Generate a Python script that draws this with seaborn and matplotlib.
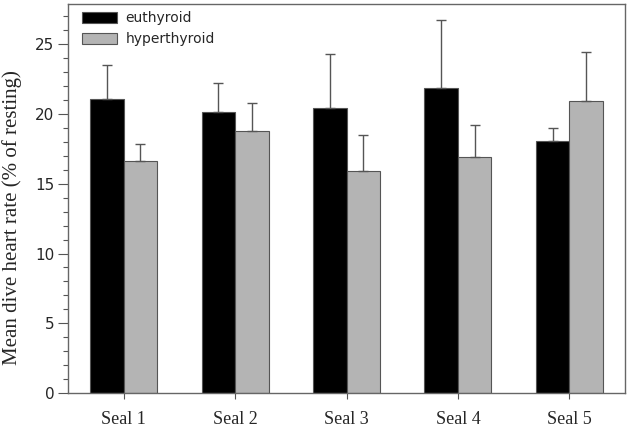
import numpy as np
import pandas as pd
import matplotlib
matplotlib.use("Agg")
import matplotlib.pyplot as plt
import seaborn as sns
from matplotlib.ticker import MultipleLocator

seals = ["Seal 1", "Seal 2", "Seal 3", "Seal 4", "Seal 5"]
groups = ["euthyroid", "hyperthyroid"]
euthyroid = [21.1, 20.15, 20.45, 21.85, 18.1]
hyperthyroid = [16.65, 18.8, 15.95, 16.9, 20.9]
euthyroid_err = [2.4, 2.1, 3.85, 4.9, 0.9]
hyperthyroid_err = [1.2, 2.0, 2.55, 2.3, 3.55]

df = pd.DataFrame({
    "seal": seals * 2,
    "group": [groups[0]] * len(seals) + [groups[1]] * len(seals),
    "value": euthyroid + hyperthyroid,
    "err": euthyroid_err + hyperthyroid_err,
})

sns.set_style("white")
fig = plt.figure(figsize=(6.3, 4.29), dpi=100)
ax = fig.add_axes([0.108, 0.084, 0.884, 0.907])

palette = {"euthyroid": "#000000", "hyperthyroid": "#b4b4b4"}
sns.barplot(data=df, x="seal", y="value", hue="group", hue_order=groups,
            order=seals, palette=palette, errorbar=None, width=0.6,
            edgecolor="#555555", linewidth=0.8, saturation=1, ax=ax)

# error bars (upward only) positioned on the drawn bars
for cont, g in zip(ax.containers, groups):
    sub = df[df["group"] == g].set_index("seal").loc[seals]
    xs = [p.get_x() + p.get_width() / 2 for p in cont.patches]
    hs = [p.get_height() for p in cont.patches]
    ax.errorbar(xs, hs, yerr=[np.zeros(len(xs)), sub["err"].values],
                fmt="none", ecolor="#555555", elinewidth=1.0, capsize=3.7,
                capthick=1.0, zorder=1)

ax.set_xlim(-0.5, 4.5)
ax.set_ylim(0, 27.9)
ax.yaxis.set_major_locator(MultipleLocator(5))
ax.yaxis.set_minor_locator(MultipleLocator(1))
ax.tick_params(axis="y", which="major", left=True, length=7, width=0.8,
               color="#555555", labelsize=11, direction="out", pad=3)
ax.tick_params(axis="y", which="minor", left=True, length=3.5, width=0.8,
               color="#555555", direction="out")
ax.tick_params(axis="x", which="major", bottom=True, length=4, width=0.8,
               color="#555555", direction="out", pad=9)
for lab in ax.get_xticklabels():
    lab.set_fontfamily("Liberation Serif")
    lab.set_fontsize(13)
for lab in ax.get_yticklabels():
    lab.set_fontfamily("DejaVu Sans")

ax.set_xlabel("")
ax.set_ylabel("Mean dive heart rate (% of resting)", fontfamily="Liberation Serif",
              fontsize=15)
ax.yaxis.set_label_coords(-0.082, 0.451)

for s in ax.spines.values():
    s.set_color("#666666")
    s.set_linewidth(1.0)

leg = ax.legend(loc="upper left", frameon=False, fontsize=10,
                handlelength=2.5, handleheight=0.85, borderaxespad=0.15,
                labelspacing=0.47, handletextpad=0.65,
                bbox_to_anchor=(0.011, 1.0))
for h in leg.legend_handles:
    h.set_edgecolor("#555555")
    h.set_linewidth(0.8)

fig.savefig("out.png", dpi=100)
